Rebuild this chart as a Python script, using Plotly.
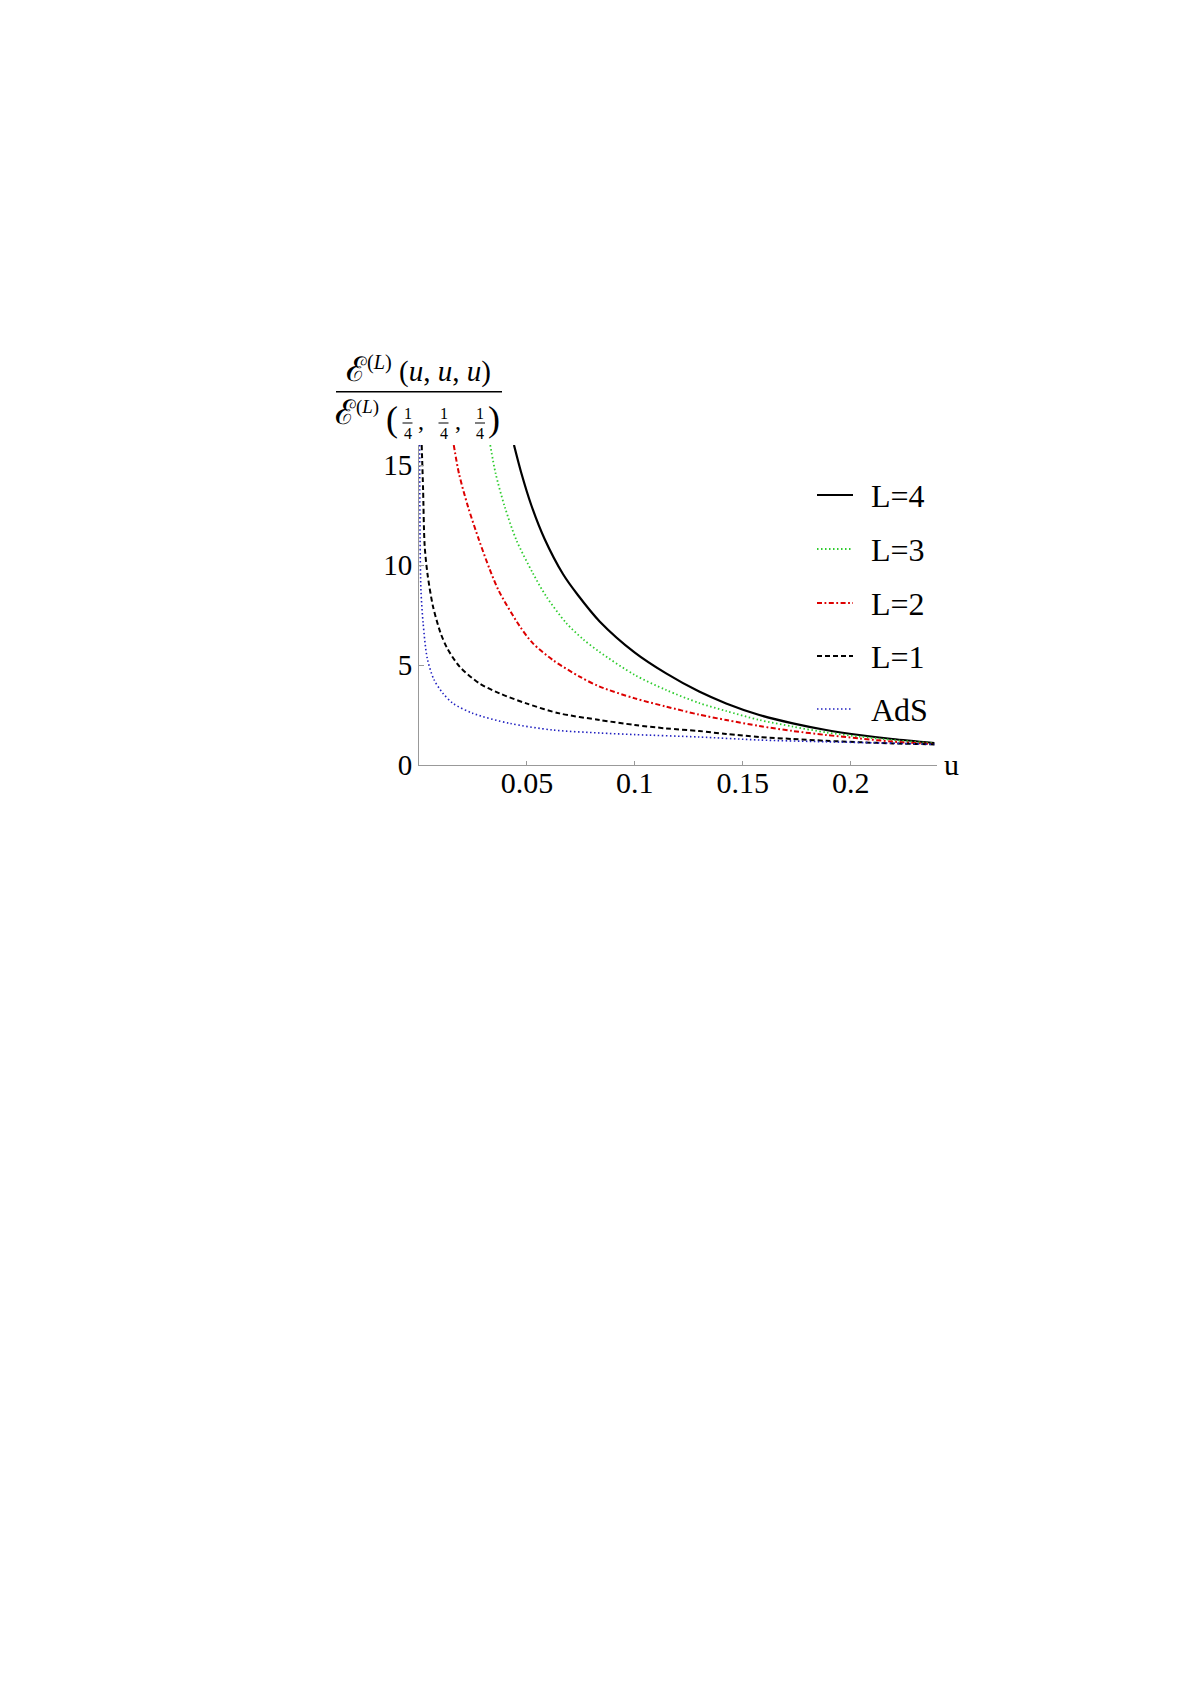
import plotly.graph_objects as go

# values
u_l4 = [0.044, 0.0474, 0.052, 0.0582, 0.0667, 0.0736, 0.0837, 0.100, 0.1145, 0.1298,
        0.1423, 0.1577, 0.1732, 0.1886, 0.204, 0.2194, 0.2388]
e_l4 = [16, 14.6, 13.0, 11.3, 9.55, 8.5, 7.18, 5.62, 4.58, 3.67,
        3.08, 2.5, 2.08, 1.75, 1.5, 1.3, 1.1]

u_l3 = [0.033, 0.0355, 0.0397, 0.0451, 0.0528, 0.059, 0.0682, 0.0759, 0.0837, 0.100, 0.1145,
        0.1298, 0.1423, 0.1577, 0.1732, 0.1886, 0.204, 0.2194, 0.2388]
e_l3 = [16, 14.58, 12.92, 11.25, 9.58, 8.42, 7.1, 6.3, 5.65, 4.5, 3.75,
        3.1, 2.7, 2.25, 1.92, 1.63, 1.42, 1.25, 1.08]

u_l2 = [0.0161, 0.0185, 0.0227, 0.0278, 0.0327, 0.037, 0.0466, 0.0528, 0.062, 0.0744, 0.0837,
        0.100, 0.1145, 0.1298, 0.1423, 0.1577, 0.1732, 0.1886, 0.204, 0.2194, 0.2388]
e_l2 = [16, 14.58, 12.92, 11.25, 9.8, 8.7, 6.95, 6.08, 5.25, 4.42, 3.92,
        3.33, 2.92, 2.52, 2.25, 1.95, 1.7, 1.5, 1.33, 1.17, 1.05]

u_l1 = [0.00125, 0.0019, 0.0026, 0.0039, 0.0065, 0.010, 0.013, 0.0188, 0.028, 0.0374, 0.0497,
        0.0651, 0.0837, 0.100, 0.1145, 0.1298, 0.1423, 0.1577, 0.1732, 0.1886, 0.204, 0.2194, 0.2388]
e_l1 = [16, 13.75, 11.0, 9.58, 7.92, 6.6, 5.85, 4.92, 4.08, 3.58, 3.08,
        2.58, 2.25, 2.0, 1.83, 1.7, 1.55, 1.4, 1.3, 1.21, 1.14, 1.08, 1.03]

u_ads = [0.0003, 0.0005, 0.0009, 0.0019, 0.0038, 0.0068, 0.0111, 0.0158, 0.025, 0.042, 0.062,
         0.0837, 0.100, 0.1298, 0.1577, 0.1886, 0.2194, 0.2388]
e_ads = [16, 11.3, 8.75, 7.1, 5.35, 4.3, 3.58, 3.08, 2.58, 2.08, 1.75,
         1.6, 1.52, 1.4, 1.25, 1.16, 1.09, 1.03]

x_ticks = [0.05, 0.1, 0.15, 0.2]
x_ticktext = ["0.05", "0.1", "0.15", "0.2"]
y_ticks = [0, 5, 10, 15]
y_ticktext = ["0", "5", "10", "15"]

SERIF = "Liberation Serif, DejaVu Serif, serif"


# page pixel -> paper coords (plot area is 419..937 x 445..765 on the page)
def px(x):
    return (x - 419) / 518


def py(y):
    return (765 - y) / 320


fig = go.Figure()
traces = [
    ("L=4", u_l4, e_l4, "black", "solid", 2.2),
    ("L=3", u_l3, e_l3, "#2ecc2e", "1.5px,2.5px", 1.8),
    ("L=2", u_l2, e_l2, "#dd0000", "5px,2.5px,1.8px,2.5px", 2.0),
    ("L=1", u_l1, e_l1, "black", "5px,3px", 2.0),
    ("AdS", u_ads, e_ads, "#2020c0", "1.5px,2.5px", 1.6),
]
for name, xs, ys, col, dash, w in traces:
    fig.add_trace(go.Scatter(x=xs, y=ys, mode="lines", name=name, showlegend=False,
                             line=dict(color=col, dash=dash, width=w, shape="spline", smoothing=0.8)))

big_e = '<span style="font-size:34px">ℰ</span>'
annotations = [
    # y axis title as a stacked fraction
    dict(x=px(418), y=py(369), text=big_e + "<sup>(<i>L</i>)</sup> (<i>u</i>, <i>u</i>, <i>u</i>)",
         font=dict(size=29)),
    dict(x=px(357), y=py(412), text=big_e + "<sup>(<i>L</i>)</sup>", font=dict(size=27)),
    dict(x=px(392), y=py(419), text="(", font=dict(size=36)),
    dict(x=px(494), y=py(419), text=")", font=dict(size=36)),
    dict(x=px(421), y=py(421), text=",", font=dict(size=24)),
    dict(x=px(458), y=py(421), text=",", font=dict(size=24)),
    dict(x=px(951), y=py(764), text="u", font=dict(size=30)),
]
for cx in [407.5, 443.5, 480]:
    annotations.append(dict(x=px(cx), y=py(413), text="1", font=dict(size=16)))
    annotations.append(dict(x=px(cx), y=py(433), text="4", font=dict(size=16)))
for a in annotations:
    a.update(xanchor="center")

shapes = [dict(type="line", x0=px(336), x1=px(502), y0=py(391.7), y1=py(391.7),
               line=dict(color="black", width=1.5))]
for cx in [407.5, 443.5, 480]:
    shapes.append(dict(type="line", x0=px(cx - 5), x1=px(cx + 5), y0=py(423), y1=py(423),
                       line=dict(color="black", width=1)))

# legend drawn as sample lines plus labels
legend_y = [495, 549, 603, 656, 709]
for (name, xs, ys, col, dash, w), ly in zip(traces, legend_y):
    shapes.append(dict(type="line", x0=px(817), x1=px(853), y0=py(ly), y1=py(ly),
                       line=dict(color=col, dash=dash, width=w)))
    annotations.append(dict(x=px(869), y=py(ly + 1), text=name, xanchor="left", font=dict(size=32)))

for a in annotations:
    a.update(xref="paper", yref="paper", showarrow=False, yanchor="middle")
    a["font"].update(family=SERIF, color="black")
for s in shapes:
    s.update(xref="paper", yref="paper")

fig.update_layout(
    width=1176, height=1669,
    margin=dict(l=411, r=247, t=437, b=912),
    paper_bgcolor="white", plot_bgcolor="white",
    font=dict(family=SERIF, size=30, color="black"),
    showlegend=False,
    annotations=annotations,
    shapes=shapes,
)
fig.update_xaxes(range=[0, 0.24], tickvals=x_ticks, ticktext=x_ticktext, ticks="inside", ticklen=4,
                 tickcolor="#999", showline=True, linecolor="#999", linewidth=1, showgrid=False,
                 zeroline=False, tickfont=dict(family=SERIF, size=30), ticklabelstandoff=-9)
fig.update_yaxes(range=[0, 16], tickvals=y_ticks, ticktext=y_ticktext, ticks="inside", ticklen=5,
                 tickcolor="#999", showline=True, linecolor="#999", linewidth=1, showgrid=False,
                 zeroline=False, tickfont=dict(family=SERIF, size=29))

fig.write_html("out.html")
